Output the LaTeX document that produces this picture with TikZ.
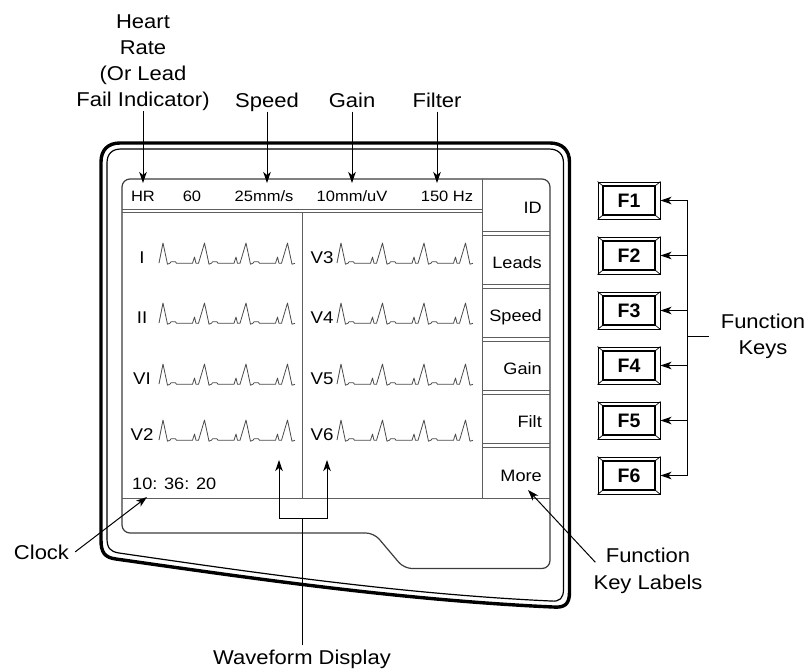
\documentclass[tikz,border=0pt]{standalone}
\usepackage{fontspec}
\setmainfont{Liberation Sans}[FakeStretch=1.1]
\newfontfamily\keyfont{Liberation Sans}
\usetikzlibrary{arrows.meta,calc}
\definecolor{scr}{HTML}{3C3C3C}
\definecolor{scrin}{HTML}{5E5E5E}
\definecolor{wav}{HTML}{4A4A4A}
\tikzset{
  pics/ecg/.style={code={
    \draw[wave] (-4,0) foreach \k in {0,1,2} {
      -- ({41.5*\k},-20) -- ({41.5*\k+4.5},1.2) -- ({41.5*\k+7},0.2)
      -- ({41.5*\k+8},-1.2) -- ({41.5*\k+12.5},-1.2) -- ({41.5*\k+13.5},0.3)
      -- ({41.5*\k+29.5},0.3) -- ({41.5*\k+31.5},-6) -- ({41.5*\k+33},0.3)
      -- ({41.5*\k+35.5},0.3) }
      -- (124.5,-20) -- (129,1.2) -- (132,0.3);
  }}
}
\begin{document}
\begin{tikzpicture}[x=1pt,y=-1pt,
  arr/.style={-{Stealth[length=11pt,width=7.5pt,inset=3pt]},line width=1pt},
  lbl/.style={font=\fontsize{20}{26}\selectfont, inner sep=0pt},
  hdr/.style={font=\fontsize{15}{18}\selectfont, inner sep=0pt, anchor=base},
  wl/.style={font=\fontsize{17}{20}\selectfont, inner sep=0pt, anchor=base},
  sk/.style={font=\fontsize{16.5}{20}\selectfont, inner sep=0pt, anchor=base east},
  fkey/.style={draw, fill=white, line width=1pt, minimum width=62pt, minimum height=37pt, inner sep=0pt,
    font=\keyfont\bfseries\fontsize{19.5}{20}\selectfont},
  scrline/.style={draw=scr, line width=1.2pt},
  inline/.style={draw=scrin, line width=1pt},
  wave/.style={draw=wav, line width=0.8pt, line join=round},
]
\useasboundingbox (0,0) rectangle (809,670);

% device outline
\draw[line width=3.4pt] (101,540) -- (101,162) .. controls (101,150) and (108,143) .. (120,143)
  -- (550,143) .. controls (562,143) and (569.5,150) .. (569.5,162)
  -- (569.5,592) .. controls (569.5,604) and (565,608) .. (553,607)
  .. controls (400,600) and (250,578) .. (116,559)
  .. controls (105,557.5) and (101,553) .. (101,540) -- cycle;
\draw[line width=1.2pt] (107,538) -- (107,163) .. controls (107,154) and (112,149) .. (121,149)
  -- (549,149) .. controls (558,149) and (563.5,154) .. (563.5,163)
  -- (563.5,589) .. controls (563.5,598) and (560,602) .. (551,601)
  .. controls (400,594) and (250,572) .. (119,553)
  .. controls (110,551.5) and (107,548) .. (107,538) -- cycle;

% screen
\draw[scrline, rounded corners=8pt] (122,480) -- (122,179) -- (550,179) -- (550,568.5)
  -- (404,568.5) -- (374,533) -- (122,533) -- cycle;
\draw[inline] (122,498) -- (550,498);
\draw[inline] (482,179) -- (482,498);
\draw[inline] (302,212) -- (302,498);
\draw[inline] (122,209.8) -- (482,209.8) (122,212.3) -- (482,212.3);
\foreach \b in {233.6,286.5,339.4,392.3,445.2}
  \draw[inline] (482,{\b-2}) -- (550,{\b-2}) (482,{\b+2}) -- (550,{\b+2});

% header texts
\node[hdr] (hr) at (143,201.5) {HR};
\node[hdr] (hrv) at (192,201.5) {60};
\node[hdr] (spd) at (264,201.5) {25mm/s};
\node[hdr] (gn) at (352,201.5) {10mm/uV};
\node[hdr] (flt) at (447,201.5) {150 Hz};

% soft keys
\node[sk] (kid) at (542,213) {ID};
\node[sk] (kleads) at (542,268) {Leads};
\node[sk] (kspeed) at (542,321) {Speed};
\node[sk] (kgain) at (542,374) {Gain};
\node[sk] (kfilt) at (542,427) {Filt};
\node[sk] (kmore) at (542,481) {More};

% clock
\node[hdr, anchor=base west, font=\fontsize{16.5}{20}\selectfont] (clkd) at (132,489) {10: 36: 20};

% waveforms
\foreach \lab/\yy [count=\n] in {I/263,II/323,VI/384,V2/440} {
  \node[wl] (wl\n) at (142,\yy) {\lab};
  \pic at (163,\yy) {ecg};
}
\foreach \lab/\yy [count=\n] in {V3/263,V4/323,V5/384,V6/440} {
  \node[wl] (wr\n) at (322,\yy) {\lab};
  \pic at (341,\yy) {ecg};
}

% top labels and arrows
\coordinate (tipy) at (0,183);
\node[lbl, align=center, anchor=north] (hrl) at (143,15) {Heart\\Rate\\(Or Lead\\Fail Indicator)};
\node[lbl, anchor=base, text depth=4pt] (spl) at (267,107.3) {Speed};
\node[lbl, anchor=base, text depth=4pt] (gnl) at (352,107.3) {Gain};
\node[lbl, anchor=base, text depth=4pt] (fll) at (437,107.3) {Filter};
\draw[arr] (hrl.south) -- (hrl.south |- tipy);
\draw[arr] (spl.south) -- (spl.south |- tipy);
\draw[arr] (gnl.south) -- (gnl.south |- tipy);
\draw[arr] (fll.south) -- (fll.south |- tipy);

% function keys
\foreach \i/\y in {1/200.5,2/255.5,3/310.5,4/365.5,5/420.5,6/475.5} {
  \node[fkey] (f\i) at (629,\y) {F\i};
  \draw[line width=1.4pt] ($(f\i.north west)+(5.5,4.5)$) rectangle ($(f\i.south east)+(-5.5,-4.5)$);
  \draw[line width=0.7pt] (f\i.north west) -- ($(f\i.north west)+(5.5,4.5)$)
    (f\i.north east) -- ($(f\i.north east)+(-5.5,4.5)$)
    (f\i.south west) -- ($(f\i.south west)+(5.5,-4.5)$)
    (f\i.south east) -- ($(f\i.south east)+(-5.5,-4.5)$);
  \draw[arr] ($(f\i.east)+(27,0)$) -- (f\i.east);
}
\coordinate (bus) at ($(f1.east)+(27,0)$);
\draw[line width=1pt] (bus) -- ($(f6.east)+(27,0)$);
\node[lbl, align=center, anchor=north, inner xsep=11.5pt] (fkl) at (763,314) {Function\\Keys};
\draw[line width=1pt] (bus |- fkl.west) -- (fkl.west);

% clock callout
\node[lbl, anchor=base] (clk) at (41.5,559) {Clock};
\coordinate (clkt) at (147,497);
\draw[arr] ($(clk.east)+(6,0)$) -- (clkt);

% function key labels callout
\node[lbl, align=center, anchor=north, font=\fontsize{20}{27}\selectfont] (fklab) at (648,547.3) {Function\\Key Labels};
\coordinate (moretip) at (528,490);
\draw[arr] ($(fklab.north west)+(2,15)$) -- (moretip);

% waveform display callout
\node[lbl, anchor=base] (wfd) at (302,664) {Waveform Display};
\coordinate (bj) at (302,518);
\coordinate (wtl) at (279,460);
\coordinate (wtr) at (327,460);
\draw[line width=1pt] ($(wfd.north)+(0,-4)$) -- (bj);
\draw[arr] (bj) -| (wtl);
\draw[arr] (bj) -| (wtr);
\end{tikzpicture}
\end{document}
